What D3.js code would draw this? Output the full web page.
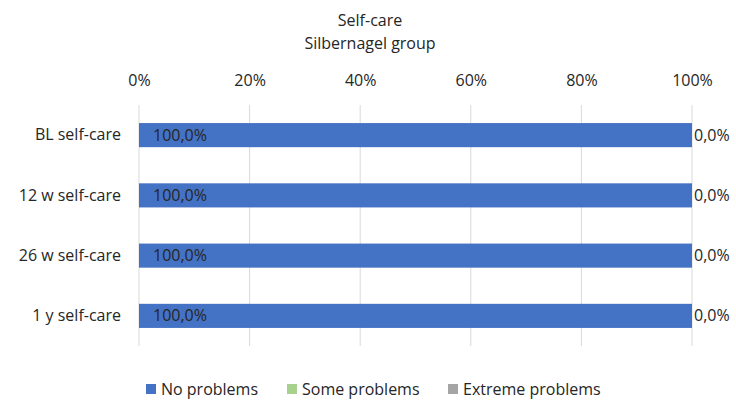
<!DOCTYPE html>
<html>
<head>
<meta charset="utf-8">
<script src="https://cdn.jsdelivr.net/npm/d3@7/dist/d3.min.js"></script>
<style>
  html, body { margin: 0; padding: 0; background: #fff; }
  svg { display: block; font-family: "Open Sans", "Noto Sans", sans-serif; }
</style>
</head>
<body>
<svg id="chart" width="736" height="402"></svg>
<script>
// Self-care outcomes over time, Silbernagel group
const categories = ["BL self-care", "12 w self-care", "26 w self-care", "1 y self-care"];
const seriesNames = ["No problems", "Some problems", "Extreme problems"];
const noProblems = [100, 100, 100, 100];
const someProblems = [0, 0, 0, 0];
const extremeProblems = [0, 0, 0, 0];
const tickValues = [0, 20, 40, 60, 80, 100];
const colors = ["#4472C4", "#A9D18E", "#A5A5A5"];

const seriesValues = [noProblems, someProblems, extremeProblems];
const rows = categories.map((c, i) => {
  const r = { category: c };
  seriesNames.forEach((s, j) => { r[s] = seriesValues[j][i]; });
  return r;
});

const svg = d3.select("#chart");
const FONT = "'Open Sans', 'Noto Sans', sans-serif";
const FS = 16;
const TXT = "#262626";
const plot = { left: 139, right: 692, top: 105, bottom: 346 };

const x = d3.scaleLinear().domain([0, 100]).range([plot.left, plot.right]);
const y = d3.scaleBand().domain(categories)
  .range([plot.top, plot.bottom]).paddingInner(0.6).paddingOuter(0.3);

const fmt = v => d3.format(".1f")(v).replace(".", ",") + "%";

// title
svg.append("text").attr("x", 370).attr("y", 20).attr("dy", "0.35em").attr("text-anchor", "middle")
  .attr("font-size", FS).attr("fill", TXT).text("Self-care");
svg.append("text").attr("x", 370).attr("y", 43).attr("dy", "0.35em").attr("text-anchor", "middle")
  .attr("font-size", FS).attr("fill", TXT).text("Silbernagel group");

// gridlines
svg.append("g").selectAll("line").data(tickValues).join("line")
  .attr("x1", d => x(d)).attr("x2", d => x(d))
  .attr("y1", plot.top).attr("y2", plot.bottom)
  .attr("stroke", "#D9D9D9").attr("stroke-width", 1);

// top axis labels
const xAxis = d3.axisTop(x).tickValues(tickValues).tickFormat(d => d + "%").tickSize(0).tickPadding(0);
const gx = svg.append("g").attr("transform", "translate(0, 86)").call(xAxis);
gx.select(".domain").remove();
gx.selectAll("text").attr("font-size", FS).attr("fill", TXT).attr("font-family", FONT);

// category axis labels
const yAxis = d3.axisLeft(y).tickSize(0).tickPadding(18);
const gy = svg.append("g").attr("transform", `translate(${plot.left}, 0)`).call(yAxis);
gy.select(".domain").remove();
gy.selectAll("text").attr("font-size", FS).attr("fill", TXT).attr("font-family", FONT);

// stacked bars
const stack = d3.stack().keys(seriesNames)(rows);
const layers = svg.append("g").selectAll("g").data(stack).join("g")
  .attr("fill", (d, i) => colors[i]);
layers.selectAll("rect").data(d => d).join("rect")
  .attr("x", d => x(d[0]))
  .attr("y", d => y(d.data.category))
  .attr("width", d => x(d[1]) - x(d[0]))
  .attr("height", y.bandwidth());

// value labels: "No problems" inside the bar start, "Some problems" at the bar end
[0, 1].forEach(k => {
  svg.append("g").selectAll("text").data(stack[k]).join("text")
    .attr("x", d => k === 0 ? x(d[0]) + 14 : x(d[0]) + 2)
    .attr("y", d => y(d.data.category) + y.bandwidth() / 2)
    .attr("dy", "0.35em")
    .attr("font-size", FS)
    .attr("fill", TXT)
    .text(d => fmt(d[1] - d[0]));
});

// legend
const legendX = [146, 287, 448];
const lg = svg.append("g").selectAll("g").data(seriesNames).join("g")
  .attr("transform", (d, i) => `translate(${legendX[i]}, 389)`);
lg.append("rect").attr("x", 0).attr("y", -5).attr("width", 10).attr("height", 10)
  .attr("fill", (d, i) => colors[i]);
lg.append("text").attr("x", 15).attr("y", 0).attr("dy", "0.35em")
  .attr("font-size", FS).attr("fill", TXT).text(d => d);
</script>
</body>
</html>
